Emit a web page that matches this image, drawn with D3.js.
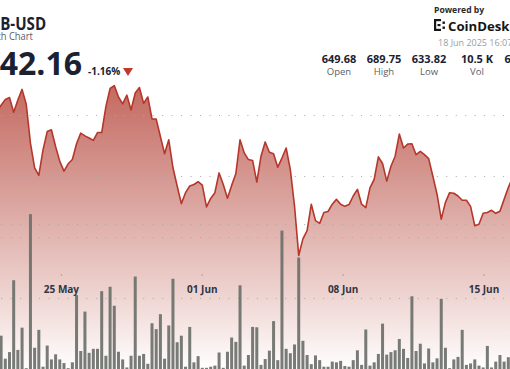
<!DOCTYPE html>
<html><head><meta charset="utf-8">
<script src="https://cdn.jsdelivr.net/npm/d3@7"></script>
<style>html,body{margin:0;padding:0;background:#fff;overflow:hidden}svg{display:block}</style>
</head><body><svg id="c" width="510" height="369"></svg>
<script>
const symbol = "BNB-USD";
const subtitle = "1 Month Chart";
const lastPrice = "642.16";
const changePct = "-1.16%";
const statValues = ["649.68", "689.75", "633.82", "10.5 K", "6.77 M"];
const statLabels = ["Open", "High", "Low", "Vol", "Val"];
const timestamp = "18 Jun 2025 16:07";
const startTime = "2025-05-21T19:00:00Z";
const stepHours = 5;
const prices = [681.0, 683.3, 685.2, 685.8, 681.0, 685.0, 688.5, 683.6, 670.8, 662.7,
  660.2, 668.6, 674.6, 675.2, 669.7, 664.8, 661.6, 664.0, 665.4, 670.6,
  674.1, 673.2, 672.5, 671.7, 674.3, 674.3, 682.8, 688.8, 689.75, 686.0,
  683.7, 686.6, 681.7, 687.3, 689.1, 683.9, 686.0, 678.8, 678.7, 673.0,
  667.3, 671.9, 662.7, 656.7, 650.9, 654.5, 656.7, 657.2, 658.1, 657.0,
  649.8, 652.6, 654.5, 661.0, 657.2, 652.7, 656.9, 660.7, 671.9, 667.6,
  665.4, 665.1, 658.0, 666.5, 671.2, 667.8, 667.3, 662.9, 665.9, 669.2,
  662.1, 650.1, 633.82, 639.3, 642.0, 650.7, 645.3, 644.4, 648.0, 648.3,
  650.7, 652.3, 650.7, 650.0, 650.6, 653.4, 655.6, 650.7, 649.6, 656.1,
  658.9, 666.3, 664.1, 658.3, 663.2, 666.5, 673.8, 669.2, 670.5, 670.6,
  667.0, 668.1, 667.0, 665.7, 659.9, 654.0, 645.8, 651.3, 654.5, 654.3,
  653.4, 652.0, 652.0, 650.0, 643.6, 644.1, 647.7, 648.0, 648.7, 647.7,
  648.4, 652.3, 656.2, 659.5];
const volumes = [40,
  94, 31, 49, 246, 55, 116, 5, 427, 61, 110,
  9, 67, 29, 43, 29, 19, 5, 21, 205, 52,
  160, 47, 58, 58, 216, 39, 228, 176, 50, 29,
  7, 39, 256, 39, 44, 17, 128, 112, 153, 31,
  122, 250, 76, 94, 9, 118, 21, 38, 6, 6,
  9, 12, 48, 6, 50, 89, 77, 232, 12, 41,
  118, 117, 14, 30, 53, 134, 27, 382, 58, 46,
  70, 308, 80, 41, 16, 40, 27, 9, 9, 23,
  21, 25, 11, 9, 27, 54, 14, 111, 12, 21,
  44, 127, 42, 49, 54, 85, 58, 33, 202, 52,
  72, 18, 59, 21, 32, 195, 61, 5, 29, 36,
  110, 14, 18, 29, 12, 7, 66, 7, 23, 41,
  23, 35, 162];
const tickDates = ["2025-06-01", "2025-05-25", "2025-06-08", "2025-06-15"];
const tickLabels = ["01 Jun", "25 May", "08 Jun", "15 Jun"];
const priceGrid = [620, 640, 660, 680];
const volumeGrid = [400];

const W = 510, H = 369;
const svg = d3.select("#c");
const t0 = new Date(startTime).getTime();
const data = prices.map((p, i) => ({t: new Date(t0 + i * stepHours * 3600e3), p, v: volumes[i]}));

const x = d3.scaleUtc().domain([new Date("2025-05-22T00:00:00Z"), new Date("2025-06-15T00:00:00Z")]).range([1.1, 484]);
const y = d3.scaleLinear().domain([620, 680]).range([297.5, 115.2]);
const yv = d3.scaleLinear().domain([0, 400]).range([370, 224]);

const defs = svg.append("defs");
const g = defs.append("linearGradient").attr("id", "ag").attr("gradientUnits", "userSpaceOnUse")
  .attr("x1", 0).attr("y1", 85).attr("x2", 0).attr("y2", 370);
[[0, "#c36a60"], [0.4, "#daa39d"], [0.75, "#efd6d3"], [1, "#ffffff"]].forEach(([o, c]) =>
  g.append("stop").attr("offset", o).attr("stop-color", c));

const area = d3.area().x(d => x(d.t)).y0(370).y1(d => y(d.p));
svg.append("path").datum(data).attr("d", area).attr("fill", "url(#ag)");

// grid
const gridYs = priceGrid.map(v => y(v)).concat(volumeGrid.map(v => yv(v)));
svg.append("g").selectAll("line").data(gridYs).join("line")
  .attr("x1", 0).attr("x2", W).attr("y1", d => Math.round(d) + 0.5).attr("y2", d => Math.round(d) + 0.5)
  .attr("stroke", "#a9a9a9").attr("stroke-width", 1)
  .attr("stroke-dasharray", "1,8.47").attr("stroke-dashoffset", -1.2);

// volume bars
svg.append("g").selectAll("rect").data(data).join("rect")
  .attr("x", d => x(d.t) - 1.5).attr("width", 3)
  .attr("y", d => yv(d.v)).attr("height", d => 370 - yv(d.v))
  .attr("fill", "#6d706a").attr("fill-opacity", 0.92);

// price line
const line = d3.line().x(d => x(d.t)).y(d => y(d.p));
svg.append("path").datum(data).attr("d", line).attr("fill", "none")
  .attr("stroke", "#b5372b").attr("stroke-width", 1.6).attr("stroke-linejoin", "round");

// date axis
const ticks = tickDates.map((d, i) => ({t: new Date(d + "T00:00:00Z"), label: tickLabels[i]}));
const ax = svg.append("g");
ax.selectAll("circle").data(ticks).join("circle")
  .attr("cx", d => x(d.t)).attr("cy", 275).attr("r", 0.8).attr("fill", "#9a9a9a");
ax.selectAll("text").data(ticks).join("text")
  .attr("x", d => x(d.t)).attr("y", 293).attr("text-anchor", "middle")
  .attr("font-family", "Open Sans").attr("font-weight", 700).attr("font-size", 10)
  .attr("fill", "#2f3642").text(d => d.label);

// header left: place texts so the visible part starts where the reference shows it
const font = "'Open Sans', 'Noto Sans', sans-serif";
function placeCut(txt, hiddenPrefix, visibleStartX, yPos, size, weight, color, sx) {
  const probe = svg.append("text").attr("font-family", font).attr("font-weight", weight)
    .attr("font-size", size).text(hiddenPrefix);
  const w = probe.node().getComputedTextLength() * sx;
  probe.remove();
  return svg.append("text")
    .attr("transform", `translate(${visibleStartX - w},${yPos}) scale(${sx},1)`)
    .attr("font-family", font)
    .attr("font-weight", weight).attr("font-size", size).attr("fill", color).text(txt);
}
placeCut(symbol, "BN", 0.2, 30, 18, 700, "#1a2232", 0.84);
placeCut(subtitle, "1 Mont", 0.9, 39.5, 11, 400, "#5b6068", 0.85);
placeCut(lastPrice, "6", -0.3, 75, 32, 700, "#1a2232", 1);
svg.append("text").attr("x", 88).attr("y", 75).attr("font-family", font).attr("font-weight", 700)
  .attr("font-size", 10).attr("fill", "#1a2232").text(changePct);
svg.append("path").attr("d", "M123,68L133,68L128,76Z").attr("fill", "#c0392b");

// header right
svg.append("text").attr("x", 434).attr("y", 12.5).attr("font-family", font).attr("font-weight", 700)
  .attr("font-size", 8.6).attr("fill", "#2b2b2b").text("Powered by");
const logo = svg.append("g").attr("fill", "#151515");
[[434, 19, 2.2, 12], [434, 19, 7, 2.2], [434, 28.8, 7, 2.2], [437.5, 24, 3, 2.2], [442.5, 21.5, 2.4, 2.4], [442.5, 26.5, 2.4, 2.4]]
  .forEach(r => logo.append("rect").attr("x", r[0]).attr("y", r[1]).attr("width", r[2]).attr("height", r[3]));
svg.append("text").attr("x", 448).attr("y", 30.5).attr("font-family", font).attr("font-weight", 700)
  .attr("font-size", 13.2).attr("fill", "#151515").text("CoinDesk");
svg.append("text").attr("x", 438).attr("y", 45.5).attr("font-family", font)
  .attr("font-size", 9).attr("fill", "#9a9da2").text(timestamp);

const statX = [339, 384, 429, 477, 522];
statValues.forEach((v, i) => {
  svg.append("text").attr("x", statX[i]).attr("y", 63).attr("text-anchor", "middle").attr("font-family", font)
    .attr("font-weight", 700).attr("font-size", 11).attr("fill", "#1a2232").text(v);
  svg.append("text").attr("x", statX[i]).attr("y", 74.5).attr("text-anchor", "middle").attr("font-family", font)
    .attr("font-size", 9.5).attr("fill", "#5b6068").text(statLabels[i]);
});
</script></body></html>
